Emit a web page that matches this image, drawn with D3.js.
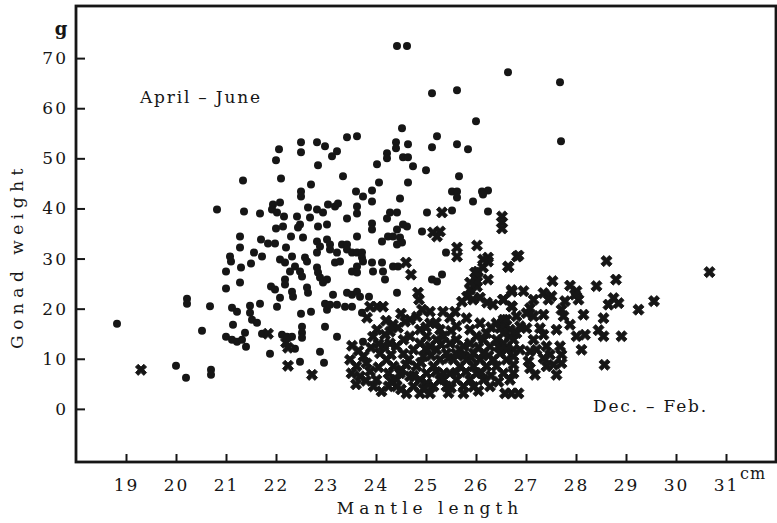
<!DOCTYPE html>
<html>
<head>
<meta charset="utf-8">
<script src="https://cdn.jsdelivr.net/npm/d3@7"></script>
<style>
  html, body { margin: 0; padding: 0; background: #fff; }
  text { font-family: "DejaVu Serif", serif; fill: #161616; }
</style>
</head>
<body>
<div id="chart"></div>
<script>
// mantle length (cm), gonad weight (g) -- April-June (dots)
const aprilJune = [
  [18.82,17.0],[20.0,8.6],[20.2,6.2],[20.22,22.0],[20.22,21.0],[20.68,20.5],[20.52,15.6],[20.7,7.8],[20.7,6.8],[20.82,39.8],[21.34,45.6],
  [22.06,51.8],[22.5,53.2],[22.82,53.2],[22.0,49.6],[22.5,51.2],[22.84,48.6],[22.1,46],[22.7,44.8],[22.5,43.4],[22.5,42.4],
  [21.36,39.4],[21.68,39],[21.94,40.8],[22.08,41.2],[21.92,39.8],[22.02,39.2],[22.16,38.4],[22.42,38.4],[22.48,36.8],[22.68,38.2],[22.64,40.2],[22.82,39.8],[22.94,39.2],
  [22.0,36],[22.14,36.4],[22.44,36.2],[22.54,34.2],[22.3,34.4],[22.84,36.4],[23.02,36.8],[21.28,34.4],[21.7,33.8],[21.84,33],[21.98,33],[22.2,32.2],[21.28,32.2],
  [21.08,30.4],[21.1,29.4],[21.56,31.2],[21.72,30.4],[21.5,29],[21.3,28.2],[21.0,27.4],
  [22.08,29.8],[22.18,29.2],[22.32,30.4],[22.38,28.4],[22.28,27.4],[22.48,27.4],[22.52,26.4],[22.58,30.2],[22.62,29.4],
  [22.82,33.4],[22.82,31.2],[22.88,32.4],[22.82,28.2],[22.84,27.2],[22.88,26.2],[22.94,25.2],[23.02,25.8],
  [22.18,25.8],[22.18,24.8],[21.28,25.2],[21.0,24],[21.9,24.4],[21.98,23.8],[22.32,23.4],[22.34,22.4],[22.62,24.2],[22.64,23.2],[22.08,22.2],
  [21.12,20.2],[21.22,19.4],[21.48,20.6],[21.48,19.2],[21.52,17.8],[21.62,17.2],[21.68,21],[22.02,20.4],[22.5,19],[22.7,19.4],[22.98,21],[23.02,19.8],
  [21.14,16.8],[21.0,14.4],[21.12,13.8],[21.22,13.4],[21.32,13.8],[21.38,15.2],[21.4,12.4],[21.72,15],[22.12,14.8],[22.22,14.4],[22.32,14.4],
  [22.52,16.4],[22.52,15.2],[22.52,14.2],[22.98,16.4],[22.38,12],[21.88,11],[22.88,11.4],[22.48,9.4],[22.96,9.2],
  [24.42,72.4],[24.62,72.4],[26.64,67.2],[25.12,63],[25.62,63.6],[26.0,57.4],[24.52,56],[23.42,54.2],[23.62,54.4],[22.98,52.4],[23.12,50.4],[23.22,51.4],
  [24.4,53.2],[24.4,52],[24.64,52.8],[25.22,54.4],[25.12,52.2],[25.62,52.8],[25.84,51.8],[24.22,51],[24.22,50],[24.54,50.2],[24.64,50.2],[24.74,48.4],
  [24.02,48.8],[25.0,47.6],[23.34,46.4],[25.66,46.4],[24.06,45.2],[24.64,45.2],[23.6,43.4],[23.74,42.4],[23.92,43.6],[23.92,41.4],[24.48,42],
  [25.52,43.4],[25.62,43.4],[25.62,42.2],[26.12,43.4],[26.24,43.6],[26.14,42.8],[25.94,41.4],[23.04,40.8],[23.18,40.4],[23.24,41],[23.62,40.4],[23.62,39],
  [24.28,39.2],[24.42,39.2],[24.22,38],[25.02,39.2],[25.52,39.6],[26.24,39.4],[23.42,38],[23.92,37],[23.92,35.8],[24.42,35.8],[24.54,36.8],[24.62,36.4],
  [24.92,35.4],[23.62,34.4],[23.02,33.8],[23.08,32.8],[23.32,32.8],[23.42,32.8],[23.42,31.8],[23.52,31.2],[23.62,31.2],[23.72,31.2],[23.72,30.2],
  [24.12,33.4],[24.24,34.4],[24.34,34.4],[24.48,34.2],[24.52,33.2],[24.42,32.8],[25.4,31.2],[27.68,65.2],[27.7,53.4],
  [23.08,31.8],[23.22,31.2],[23.18,29.2],[23.28,29.4],[23.74,29.4],[23.62,28.4],[23.52,27.4],[23.62,27.2],[23.92,29.2],[23.94,27.4],[24.12,29.2],
  [24.14,27.4],[24.18,25.8],[24.34,28.4],[24.44,28.4],[25.12,25.8],[25.22,25.4],[25.32,26.8],[23.14,22.8],[23.42,23.2],[23.52,22.8],[23.62,23.4],
  [23.68,22.4],[23.86,22.4],[23.08,20.8],[23.22,20.8],[23.38,20.4],[23.52,20.4],[24.42,23.2],[23.72,19.2],[23.22,14.4],[23.74,13.4]
];

// Dec.-Feb. (crosses)
const decFeb = [
  [19.3,7.8],[21.84,15],[22.24,12.2],[22.24,8.6],[22.72,6.8],[22.2,13.2],
  [25.32,39.2],[25.14,35.2],[25.28,35.4],[25.22,34.4],[25.62,32.2],[25.62,30.4],[26.02,32.6],[26.52,38.4],[26.52,37.2],[26.52,36],[26.24,30.2],[26.82,30.4],
  [23.88,20.4],[24.02,20.4],[24.14,20.4],[23.82,18.2],[24.6,29.2],[24.7,26.8],[24.84,23.2],[24.86,21.8],[26.64,28.4],[26.24,29.4],[26.14,28.2],
  [26.04,27.4],[26.02,26.4],[26.24,25.8],[25.88,23.8],[26.02,24.4],[25.82,22.4],[25.72,21.4],[25.94,21.8],[26.08,22.2],[26.22,21.2],[26.34,20.8],
  [26.54,21.8],[26.72,23.4],[26.72,20.4],[25.98,27.2],[26.02,25.4],[25.88,25.2],[26.14,29.8],
  [25.34,19.4],[25.48,18.2],[25.58,19.4],[25.08,19.4],[24.92,19.8],[24.82,18.4],[24.68,17.8],[24.58,17.4],[24.44,16.2],[24.34,16.8],[24.28,15.4],
  [24.02,15.8],[23.94,14.4],[23.52,12.6],
  [23.75,10.5],[23.61,8.5],[23.51,7.1],[23.68,6.5],[23.88,7.5],[24.01,5.8],[23.95,4.5],[24.11,3.5],[24.25,4.5],[24.41,5.8],[24.51,7.8],[24.65,9.8],
  [24.75,11.8],[24.88,13.1],[25.01,14.5],[25.08,12.5],[25.21,13.8],[25.35,14.5],[25.48,13.1],[25.61,13.8],[25.75,12.5],[25.88,13.1],[26.01,14.5],
  [26.15,13.8],[26.28,12.5],[26.41,13.8],[26.55,13.1],[26.68,14.5],[26.81,15.1],[25.41,11.1],[25.28,9.8],[25.15,8.5],[25.01,7.1],[24.88,5.8],
  [24.75,4.5],[24.61,3.1],[24.48,7.1],[24.35,8.5],[24.21,9.8],[24.08,11.1],[24.41,12.5],[24.55,13.8],[24.68,14.5],[25.55,9.8],[25.68,8.5],
  [25.81,9.8],[25.95,11.1],[26.08,9.8],[26.21,8.5],[26.35,9.8],[26.48,11.1],[26.61,9.8],[26.75,11.8],[25.48,7.1],[25.61,5.8],[25.75,4.5],
  [25.88,5.8],[26.01,7.1],[26.15,5.8],[26.28,4.5],[25.28,5.8],[25.15,4.5],[25.01,5.1],[25.41,4.5],[26.55,7.1],[26.68,5.8],[26.58,3.1],
  [26.71,3.1],[26.85,3.1],[24.88,3.1],[25.08,3.1],[25.75,3.1],[24.28,13.1],[24.18,14.8],
  [23.81,9.1],[23.48,9.8],[24.25,7.1],[24.81,8.5],[24.95,10.5],[25.21,11.8],[25.35,7.1],[25.95,8.5],[26.15,11.1],[26.41,8.5],[24.68,6.5],
  [24.41,4.5],[25.68,11.8],[26.21,15.1],[25.88,15.8],[25.61,16.5],[25.28,15.8],[25.08,17.1],[24.88,15.8],[25.81,18.1],[26.08,17.1],[26.41,17.1],
  [26.55,17.8],[26.81,18.5],
  [23.65,11.6],[23.9,12.2],[24.15,12.6],[24.05,8.3],[24.3,10.8],[24.55,11.0],[24.6,8.8],[24.9,9.2],[25.1,10.6],[25.0,12.0],[25.3,12.9],
  [25.45,10.1],[25.6,11.1],[25.75,10.6],[25.9,10.2],[26.05,12.3],[26.25,10.6],[26.45,12.4],[26.6,12.2],[24.3,5.5],[24.5,3.9],[24.75,6.6],
  [24.95,4.0],[25.2,7.4],[25.35,5.9],[25.5,4.2],[25.6,7.2],[25.8,7.4],[25.95,4.4],[26.1,7.2],[26.3,6.6],[26.45,5.4],[26.05,3.6],[25.45,3.2],
  [24.2,17.6],[24.5,19.0],[25.2,17.2],[25.5,15.6],[26.3,16.3],[26.6,16.6],[25.0,16.3],[24.05,13.0],[23.8,5.6],[23.6,4.9],
  [26.85,30.6],[26.65,28.3],[28.61,29.5],[30.67,27.3],[28.8,25.8],[28.41,24.5],[27.53,25.5],[27.88,24.6],[28.01,23.5],[28.05,21.8],[27.98,22.8],
  [26.71,23.7],[26.95,23.5],[26.55,21.8],[26.71,20.5],[27.35,23.1],[27.51,22.5],[27.45,21.8],[27.15,21.8],[27.08,20.1],[27.01,19.1],[27.15,18.5],
  [27.35,18.8],[27.78,21.5],[27.71,19.8],[27.75,18.5],[28.75,22.1],[28.65,20.8],[28.85,21.1],[29.25,19.8],[29.56,21.5],[28.15,18.8],[28.55,18.1],
  [26.61,17.8],[26.48,16.1],[26.68,15.8],[26.88,16.5],[27.01,16.1],[27.28,16.1],[27.35,14.8],[27.61,15.8],[27.88,16.8],[28.01,14.5],[28.18,14.8],
  [28.45,15.7],[28.55,14.5],[28.91,14.5],[28.11,11.8],[27.41,12.5],[27.48,10.8],[27.68,12.5],[27.71,10.8],[27.71,9.1],[27.15,13.8],[27.08,11.5],
  [27.21,11.8],[26.75,13.8],[26.88,11.8],[26.75,10.5],[26.61,11.8],[27.05,9.5],[27.08,8.1],[27.18,6.8],[26.75,8.8],[26.75,7.1],[27.35,10.1],
  [27.41,8.5],[27.55,8.8],[27.61,6.8],[28.57,8.8],[26.55,15.1]
];

const xTicks = [19, 20, 21, 22, 23, 24, 25, 26, 27, 28, 29, 30, 31];
const yTicks = [0, 10, 20, 30, 40, 50, 60, 70];
const xTitle = "Mantle length";
const yTitle = "Gonad weight";
const seasonLabels = ["April – June", "Dec. – Feb."];

const W = 777, H = 523;
const margin = {top: 6, right: 1, bottom: 61, left: 76};
const width = W - margin.left - margin.right,
      height = H - margin.top - margin.bottom;
const ink = "#161616";

const svg = d3.select("#chart").append("svg")
    .attr("width", W)
    .attr("height", H);
const g = svg.append("g")
    .attr("transform", `translate(${margin.left},${margin.top})`);

const x = d3.scaleLinear().domain([18, 32]).range([0, width]);
const y = d3.scaleLinear().domain([-10.6, 80.4]).range([height, 0]);

// axes (ticks point inward)
const xAxis = g.append("g")
    .attr("transform", `translate(0,${height})`)
    .call(d3.axisBottom(x).tickValues(xTicks).tickSizeInner(-8).tickSizeOuter(0).tickPadding(17));
const yAxis = g.append("g")
    .call(d3.axisLeft(y).tickValues(yTicks).tickSizeInner(-9).tickSizeOuter(0).tickPadding(8));

[xAxis, yAxis].forEach(a => {
  a.select(".domain").remove();
  a.selectAll("line").attr("stroke", ink).attr("stroke-width", 2);
  a.selectAll("text")
    .style("font-family", "'DejaVu Serif', serif")
    .style("font-size", "17px")
    .style("letter-spacing", "2px")
    .attr("fill", ink);
});

// frame
g.append("rect")
  .attr("x", 0).attr("y", 0)
  .attr("width", width).attr("height", height)
  .attr("fill", "none")
  .attr("stroke", ink)
  .attr("stroke-width", 2.8);

// points
g.append("g").selectAll("circle")
  .data(aprilJune)
  .join("circle")
    .attr("cx", d => x(d[0]))
    .attr("cy", d => y(d[1]))
    .attr("r", 4)
    .attr("fill", ink);

const cross = d3.symbol().type(d3.symbolCross).size(78);
g.append("g").selectAll("path")
  .data(decFeb)
  .join("path")
    .attr("d", cross)
    .attr("transform", d => `translate(${x(d[0])},${y(d[1])}) rotate(45)`)
    .attr("fill", ink)
    .attr("stroke", ink)
    .attr("stroke-width", 0.8)
    .attr("stroke-linejoin", "round");

// labels
g.append("text")
  .attr("x", x(19.28)).attr("y", y(61))
  .style("font-size", "17px").style("letter-spacing", "1.8px")
  .text(seasonLabels[0]);
g.append("text")
  .attr("x", x(28.34)).attr("y", y(-0.6))
  .style("font-size", "17px").style("letter-spacing", "1.8px")
  .text(seasonLabels[1]);

svg.append("text")
  .attr("x", 61).attr("y", 35)
  .attr("text-anchor", "middle")
  .style("font-size", "18px").style("font-weight", "bold")
  .text("g");
svg.append("text")
  .attr("x", 740).attr("y", 479)
  .style("font-size", "16px").style("letter-spacing", "1px")
  .text("cm");

svg.append("text")
  .attr("x", 430).attr("y", 514)
  .attr("text-anchor", "middle")
  .style("font-size", "17px").style("letter-spacing", "5px")
  .text(xTitle);
svg.append("text")
  .attr("transform", "translate(23,256) rotate(-90)")
  .attr("text-anchor", "middle")
  .style("font-size", "17px").style("letter-spacing", "5.5px")
  .text(yTitle);
</script>
</body>
</html>
